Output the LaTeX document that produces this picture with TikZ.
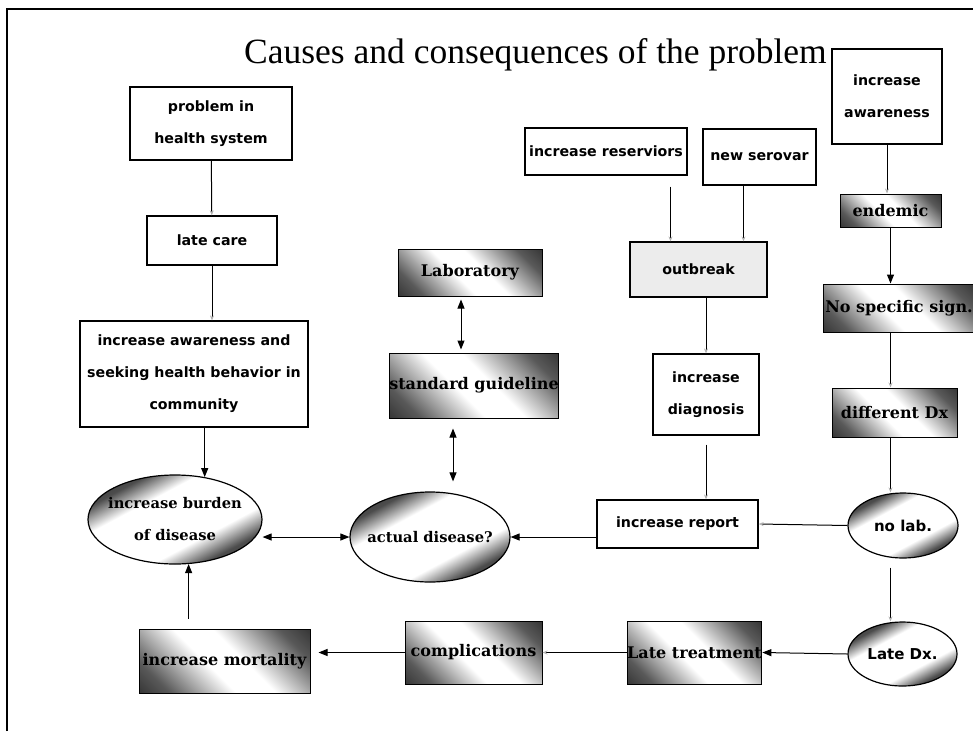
\documentclass[tikz,border=0pt]{standalone}
\usepackage{fontspec}
\setmainfont{Liberation Serif}
\newfontfamily\boxfont{DejaVu Sans}
\newfontfamily\shadefont{DejaVu Serif}
\usepackage{tikz}
\usetikzlibrary{shapes.geometric}
\usetikzlibrary{arrows.meta}
\pgfdeclarehorizontalshading{darkband}{100bp}{color(0bp)=(black); color(24bp)=(black!65); color(44bp)=(white); color(56bp)=(white); color(76bp)=(black!65); color(100bp)=(black)}
\pgfdeclarehorizontalshading{rimband}{100bp}{color(0bp)=(black); color(28bp)=(black!70); color(38bp)=(white); color(62bp)=(white); color(72bp)=(black!70); color(100bp)=(black)}

\begin{document}
\begin{tikzpicture}[x=1pt, y=-1pt, line width=1pt,
  plain/.style={draw, line width=1.2pt, fill=white, inner sep=0pt, align=center, font=\boxfont\bfseries\fontsize{14.2}{32}\selectfont},
  dark/.style={draw, inner sep=0pt, shading=darkband, shading angle=45, align=center, font=\shadefont\bfseries\fontsize{16}{32}\selectfont},
  oval/.style={ellipse, draw, line width=1.2pt, inner xsep=-10pt, inner ysep=0pt, shading=rimband, shading angle=-62, align=center, font=\shadefont\bfseries\fontsize{14.7}{32}\selectfont},
  ovalsans/.style={oval, font=\boxfont\bfseries\fontsize{15}{32}\selectfont},
  arr/.style={-{Triangle[length=9pt,width=7pt]}},
  biarr/.style={{Triangle[length=9pt,width=7pt]}-{Triangle[length=9pt,width=7pt]}},
  faint/.style={-{Stealth[length=5pt,width=4pt,color=gray!60]}}]
  \useasboundingbox (0,0) rectangle (973,731);
  \draw[line width=1.5pt] (7,731) |- (973,9);
  \node[font=\fontsize{35.5}{40}\selectfont, anchor=base] (title) at (535.5,63) {Causes and consequences of the problem};

  \node[plain, minimum width=162, minimum height=73] (problem) at (211,123.5) {problem in\\health system};
  \node[plain, minimum width=130, minimum height=49] (latecare) at (212,240.5) {late care};
  \node[plain, minimum width=228, minimum height=106] (seeking) at (194,374) {increase awareness and\\seeking health behavior in\\community};
  \node[oval, minimum width=174, minimum height=89] (burden) at (175,519.5) {increase burden\\of disease};
  \node[oval, minimum width=160, minimum height=90] (actual) at (430,537) {actual disease?};
  \node[dark, minimum width=144, minimum height=47] (lab) at (470,272.5) {Laboratory};
  \node[dark, minimum width=168, minimum height=65] (guideline) at (474,385.5) {standard guideline};
  \node[dark, minimum width=171, minimum height=64] (mortality) at (224.5,661) {increase mortality};
  \node[dark, minimum width=137, minimum height=63] (complication) at (473.5,652.5) {complications};
  \node[dark, minimum width=129, minimum height=63] (treatment) at (694.5,652.5) {Late treatment};
  \node[ovalsans, minimum width=109, minimum height=64] (latedx) at (902.5,654) {Late Dx.};
  \node[ovalsans, minimum width=110, minimum height=65] (nolab) at (903,525.5) {no lab.};
  \node[plain, minimum width=161, minimum height=48] (report) at (677.5,524) {increase report};
  \node[plain, minimum width=106, minimum height=81] (diagnosis) at (706,394.5) {increase\\diagnosis};
  \node[plain, fill=gray!15, minimum width=137, minimum height=55] (outbreak) at (698.5,269.5) {outbreak};
  \node[plain, minimum width=162, minimum height=47] (reservoir) at (606,151.5) {increase reserviors};
  \node[plain, minimum width=113, minimum height=56] (serovar) at (759.5,157) {new serovar};
  \node[plain, minimum width=110, minimum height=95] (awareness) at (887,96.5) {increase\\awareness};
  \node[dark, minimum width=101, minimum height=33] (endemic) at (890.5,210.5) {endemic};
  \node[dark, minimum width=152, minimum height=48] (nosign) at (899,308) {No specific sign.};
  \node[dark, minimum width=125, minimum height=49] (diffdx) at (894.5,412.5) {different Dx};

  \draw[faint] (problem) -- (latecare);
  \draw[faint] (latecare.south) -- (latecare.south |- seeking.north);
  \draw[arr] (seeking.south -| burden.55) -- (burden.55);
  \draw[arr, shorten <=10pt] (mortality.north -| burden.-73) -- (burden.-73);
  \draw[biarr] (burden.east |- actual.west) -- (actual.west);
  \draw[biarr, shorten <=3pt, shorten >=3pt] ([xshift=-9pt]lab.south) -- ([xshift=-13pt]guideline.north);
  \draw[biarr, shorten <=10pt, shorten >=10pt] ([xshift=-21pt]guideline.south) -- ([xshift=23pt]actual.north);
  \draw[arr] (report.west |- actual.east) -- (actual.east);
  \draw[faint] (nolab.west) -- (report.east);
  \draw[faint, shorten <=9pt] (diagnosis.south) -- (diagnosis.south |- report.north);
  \draw[faint] (outbreak.south -| diagnosis.north) -- (diagnosis.north);
  \draw[faint, shorten <=11pt] ([xshift=-28pt]outbreak.north |- reservoir.south) -- ([xshift=-28pt]outbreak.north);
  \draw[faint] ([xshift=-16pt]serovar.south) -- ([xshift=-16pt]serovar.south |- outbreak.north);
  \draw[faint] (awareness.south) -- (awareness.south |- endemic.north);
  \draw[arr] (endemic.south) -- (endemic.south |- nosign.north);
  \draw[faint] (endemic.south |- nosign.south) -- (endemic.south |- diffdx.north);
  \draw[faint] (diffdx.south -| endemic.south) -- (nolab.north -| endemic.south);
  \draw[faint, shorten <=9pt] (nolab.south -| endemic.south) -- (latedx.north -| endemic.south);
  \draw[arr] (latedx.west) -- (treatment.east);
  \draw[faint] (treatment.west) -- (complication.east);
  \draw[arr, shorten >=8pt] (complication.west) -- (complication.west -| mortality.east);
\end{tikzpicture}
\end{document}
